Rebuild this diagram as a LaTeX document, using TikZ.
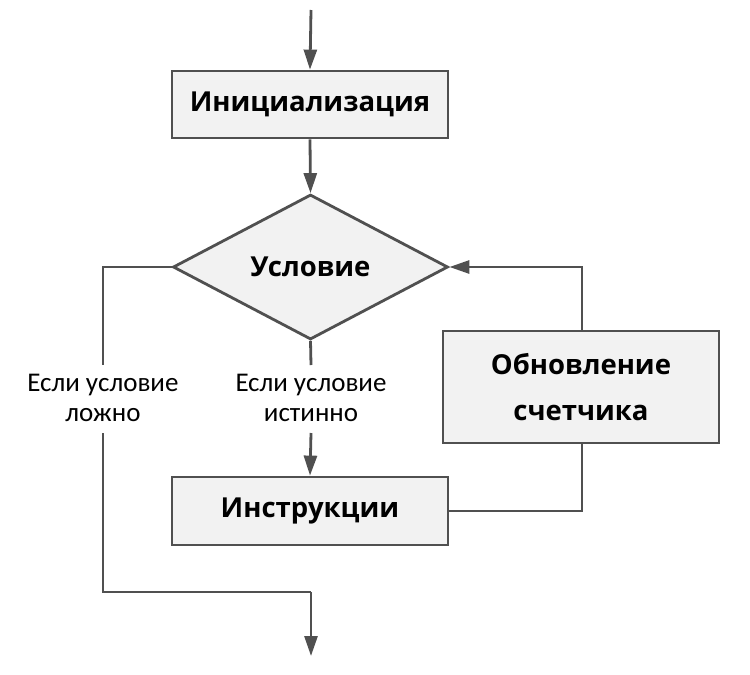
\documentclass[tikz,border=0pt]{standalone}
\usepackage{fontspec}
\setmainfont{Carlito}
\newfontfamily\titlefont{Open Sans}
\usetikzlibrary{shapes.geometric,arrows.meta}
\definecolor{linec}{HTML}{505050}
\definecolor{boxfill}{HTML}{F2F2F2}
\tikzset{
  every picture/.style={x=1pt,y=-1pt},
  conn/.style={draw=linec,line width=2.8pt},
  arr/.style={conn,-{Triangle[length=20pt,width=13pt]}},
  procbox/.style={draw=linec,line width=2.8pt,fill=boxfill,rectangle,inner sep=0pt,
    font=\titlefont\bfseries\fontsize{27.5}{46}\selectfont,align=center},
  decbox/.style={draw=linec,line width=2.8pt,fill=boxfill,diamond,inner sep=0pt,
    font=\titlefont\bfseries\fontsize{27.5}{30}\selectfont},
  lbl/.style={font=\fontsize{27}{30}\selectfont,align=center,inner sep=0pt}
}
\begin{document}
\begin{tikzpicture}
\useasboundingbox (0,0) rectangle (750,675);
\node[procbox,minimum width=276pt,minimum height=67pt] (init) at (310,104.5) {Инициализация};
\node[decbox,minimum width=275pt,minimum height=145pt] (cond) at (310.5,267) {Условие};
\node[procbox,minimum width=276pt,minimum height=68pt] (instr) at (310,511) {Инструкции};
\node[procbox,minimum width=276pt,minimum height=112pt] (upd) at (581,387) {Обновление\\счетчика};
\node[lbl] (lf) at (103,398) {Если условие\\ложно};
\node[lbl] (lt) at (311,398) {Если условие\\истинно};
\coordinate (top) at (311,10);
\coordinate (fa) at (103,267);
\coordinate (fb) at (103,365);
\coordinate (fc) at (103,433);
\coordinate (fd) at (103,592);
\coordinate (fe) at (311,592);
\coordinate (end) at (311,656);
\coordinate (tb) at (311,365);
\coordinate (tc) at (311,433);
\coordinate (ua) at (582,511);
\coordinate (ub) at (582,267);
\draw[arr] (top) -- (init.north);
\draw[arr] (init.south) -- (cond.north);
\draw[conn] (cond.west) -- (fa) -- (fb);
\draw[conn] (fc) -- (fd) -- (fe);
\draw[arr] (fe) -- (end);
\draw[conn] (cond.south) -- (tb);
\draw[arr] (tc) -- (instr.north);
\draw[conn] (instr.east) -- (ua) -- (upd.south -| ua);
\draw[arr] (upd.north -| ub) -- (ub) -- (cond.east);
\end{tikzpicture}
\end{document}
